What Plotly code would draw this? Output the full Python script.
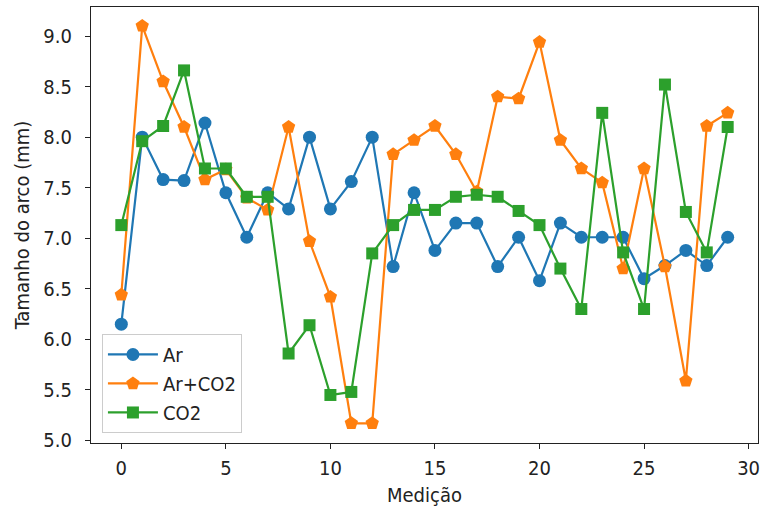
import plotly.graph_objects as go

medicao = list(range(30))
ar = [6.15, 8.00, 7.58, 7.57, 8.14, 7.45, 7.01, 7.45, 7.29, 8.00,
      7.29, 7.56, 8.00, 6.72, 7.45, 6.88, 7.15, 7.15, 6.72, 7.01,
      6.58, 7.15, 7.01, 7.01, 7.01, 6.60, 6.73, 6.88, 6.73, 7.01]
ar_co2 = [6.44, 9.10, 8.55, 8.10, 7.58, 7.68, 7.40, 7.28, 8.10, 6.97,
          6.42, 5.17, 5.17, 7.83, 7.97, 8.11, 7.83, 7.46, 8.40, 8.38,
          8.94, 7.97, 7.69, 7.55, 6.70, 7.69, 6.72, 5.59, 8.11, 8.24]
co2 = [7.13, 7.96, 8.11, 8.66, 7.69, 7.69, 7.41, 7.41, 5.86, 6.14,
       5.45, 5.48, 6.85, 7.13, 7.28, 7.28, 7.41, 7.43, 7.41, 7.27,
       7.13, 6.70, 6.30, 8.24, 6.86, 6.30, 8.52, 7.26, 6.86, 8.10]

x_ticks = [0, 5, 10, 15, 20, 25, 30]
y_ticks = [5.0, 5.5, 6.0, 6.5, 7.0, 7.5, 8.0, 8.5, 9.0]
y_ticktext = ["5.0", "5.5", "6.0", "6.5", "7.0", "7.5", "8.0", "8.5", "9.0"]

series = [
    ("Ar", ar, "#1f77b4", "circle", 13),
    ("Ar+CO2", ar_co2, "#ff7f0e", "pentagon", 14),
    ("CO2", co2, "#2ca02c", "square", 12),
]

FONT = "DejaVu Sans Condensed, DejaVu Sans, sans-serif"

fig = go.Figure()
for name, vals, color, sym, sz in series:
    fig.add_trace(go.Scatter(
        x=medicao, y=vals, name=name, mode="lines+markers",
        line=dict(color=color, width=2.2),
        marker=dict(symbol=sym, size=sz, color=color, line=dict(width=0)),
    ))

axis_common = dict(
    showline=True, linecolor="#222", linewidth=1.3, mirror=True,
    ticks="outside", ticklen=5, tickwidth=1.3, tickcolor="#222",
    showgrid=False, zeroline=False,
    tickfont=dict(family=FONT, size=20, color="#222"),
)

fig.update_layout(
    width=764, height=508,
    margin=dict(l=91, r=4, t=7, b=65),
    paper_bgcolor="white", plot_bgcolor="white",
    font=dict(family=FONT, size=20, color="#222"),
    xaxis=dict(range=[-1.45, 30.45], tickmode="array", tickvals=x_ticks,
               ticklabelstandoff=2,
               title=dict(text="Medição", font=dict(size=20), standoff=8), **axis_common),
    yaxis=dict(range=[4.975, 9.287], tickmode="array",
               tickvals=y_ticks, ticktext=y_ticktext,
               ticklabelstandoff=9,
               title=dict(text="Tamanho do arco (mm)", font=dict(size=20), standoff=8), **axis_common),
    legend=dict(x=0.0164, y=0.023, xanchor="left", yanchor="bottom",
                bgcolor="rgba(255,255,255,0.8)", bordercolor="#cccccc", borderwidth=1,
                font=dict(size=20), itemwidth=50,
                entrywidth=154),
    showlegend=True,
)

fig.write_html("out.html")
